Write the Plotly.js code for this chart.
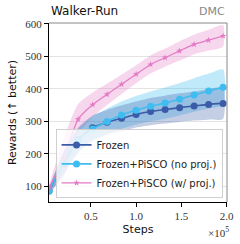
<!DOCTYPE html>
<html><head><meta charset="utf-8">
<script src="https://cdn.plot.ly/plotly-3.0.1.min.js"></script>
<style>html,body{margin:0;padding:0;background:#fff;}#chart{width:240px;height:244px;}</style>
</head><body><div id="chart"></div>
<script>
const steps = [4000, 20000, 36000, 52000, 68000, 84000, 100000, 116000, 132000, 148000, 164000, 180000, 196000];
const frozenMean = [85, 170, 242, 280, 297, 309, 321, 330, 336, 342, 347, 352, 355];
const frozenStd  = [10, 35, 38, 38, 38, 40, 40, 42, 43, 44, 45, 47, 48];
const noProjMean = [85, 172, 240, 276, 299, 319, 334, 346, 356, 368, 381, 393, 405];
const noProjStd  = [10, 35, 38, 38, 40, 42, 44, 46, 48, 50, 52, 54, 55];
const wProjMean  = [95, 186, 306, 351, 383, 414, 445, 475, 496, 517, 537, 550, 563];
const wProjStd   = [10, 60, 47, 38, 33, 30, 28, 28, 28, 30, 30, 32, 33];
const xTickVals = [50000, 100000, 150000, 200000];
const xTickText = ['0.5', '1.0', '1.5', '2.0'];
const yTickVals = [100, 200, 300, 400, 500, 600];
const seriesNames = ['Frozen', 'Frozen+PiSCO (no proj.)', 'Frozen+PiSCO (w/ proj.)'];

function band(mean, std, color) {
  const up = mean.map((m, i) => m + std[i]);
  const lo = mean.map((m, i) => m - std[i]);
  return {x: steps.concat(steps.slice().reverse()), y: up.concat(lo.slice().reverse()),
    type: 'scatter', mode: 'lines', fill: 'toself', fillcolor: color,
    line: {width: 0, shape: 'spline', smoothing: 0.6}, hoverinfo: 'skip', showlegend: false};
}
function line(mean, name, color, symbol, size, width) {
  return {x: steps, y: mean, type: 'scatter', mode: 'lines+markers', name: name,
    line: {color: color, width: width, shape: 'spline', smoothing: 0.6},
    marker: {color: color, symbol: symbol, size: size}};
}
const cFrozen = '#3a5ca8', cNoProj = '#3fbdf0', cWProj = '#e47ac6';
const data = [
  band(wProjMean, wProjStd, 'rgba(228,122,198,0.30)'),
  band(noProjMean, noProjStd, 'rgba(63,189,240,0.33)'),
  band(frozenMean, frozenStd, 'rgba(58,92,168,0.30)'),
  line(frozenMean, seriesNames[0], cFrozen, 'circle', 7, 1.6),
  line(noProjMean, seriesNames[1], cNoProj, 'circle', 7, 1.6),
  line(wProjMean, seriesNames[2], cWProj, 'star', 5, 1.2)
];
const layout = {
  width: 240, height: 244,
  margin: {l: 49, r: 13, t: 23, b: 42},
  paper_bgcolor: '#fff', plot_bgcolor: '#fff',
  showlegend: true,
  legend: {x: 0.975, y: 0.02, xanchor: 'right', yanchor: 'bottom',
    bgcolor: 'rgba(255,255,255,0.8)', bordercolor: '#d0d0d0', borderwidth: 1,
    font: {family: 'DejaVu Sans', size: 10, color: '#222'}, tracegroupgap: 0},
  xaxis: {range: [3900, 200300], tickvals: xTickVals, ticktext: xTickText,
    ticks: 'outside', ticklen: 4, tickcolor: '#000', showgrid: false, zeroline: false,
    showline: true, linecolor: '#000', linewidth: 1,
    tickfont: {family: 'Liberation Serif', size: 11, color: '#333'},
    title: {text: 'Steps', font: {family: 'DejaVu Sans', size: 11, color: '#111'}, standoff: 4}},
  yaxis: {range: [51, 603], tickvals: yTickVals,
    ticks: 'outside', ticklen: 4, tickcolor: '#000', showgrid: true, gridcolor: '#e4e4e4', gridwidth: 1,
    zeroline: false, showline: true, linecolor: '#000', linewidth: 1,
    tickfont: {family: 'Liberation Serif', size: 11, color: '#333'},
    title: {text: 'Rewards (↑ better)', font: {family: 'DejaVu Sans', size: 11, color: '#111'}, standoff: 6}},
  shapes: [
    {type: 'line', xref: 'paper', yref: 'paper', x0: 0, x1: 1, y0: 1, y1: 1, line: {color: '#888', width: 1}},
    {type: 'line', xref: 'paper', yref: 'paper', x0: 1, x1: 1, y0: 0, y1: 1, line: {color: '#888', width: 1}}
  ],
  annotations: [
    {text: 'Walker-Run', xref: 'paper', yref: 'paper', x: 0, y: 1, xanchor: 'left', yanchor: 'bottom', yshift: 3,
      showarrow: false, font: {family: 'DejaVu Sans', size: 12, color: '#111'}},
    {text: 'DMC', xref: 'paper', yref: 'paper', x: 1, y: 1, xanchor: 'right', yanchor: 'bottom', yshift: 3,
      showarrow: false, font: {family: 'DejaVu Sans', size: 11, color: '#888'}},
    {text: '×10<sup>5</sup>', xref: 'paper', yref: 'paper', x: 1.02, y: 0, xanchor: 'right', yanchor: 'top', yshift: -21,
      showarrow: false, font: {family: 'Liberation Serif', size: 11, color: '#333'}}
  ]
};
Plotly.newPlot('chart', data, layout, {displayModeBar: false, staticPlot: true});
</script></body></html>
